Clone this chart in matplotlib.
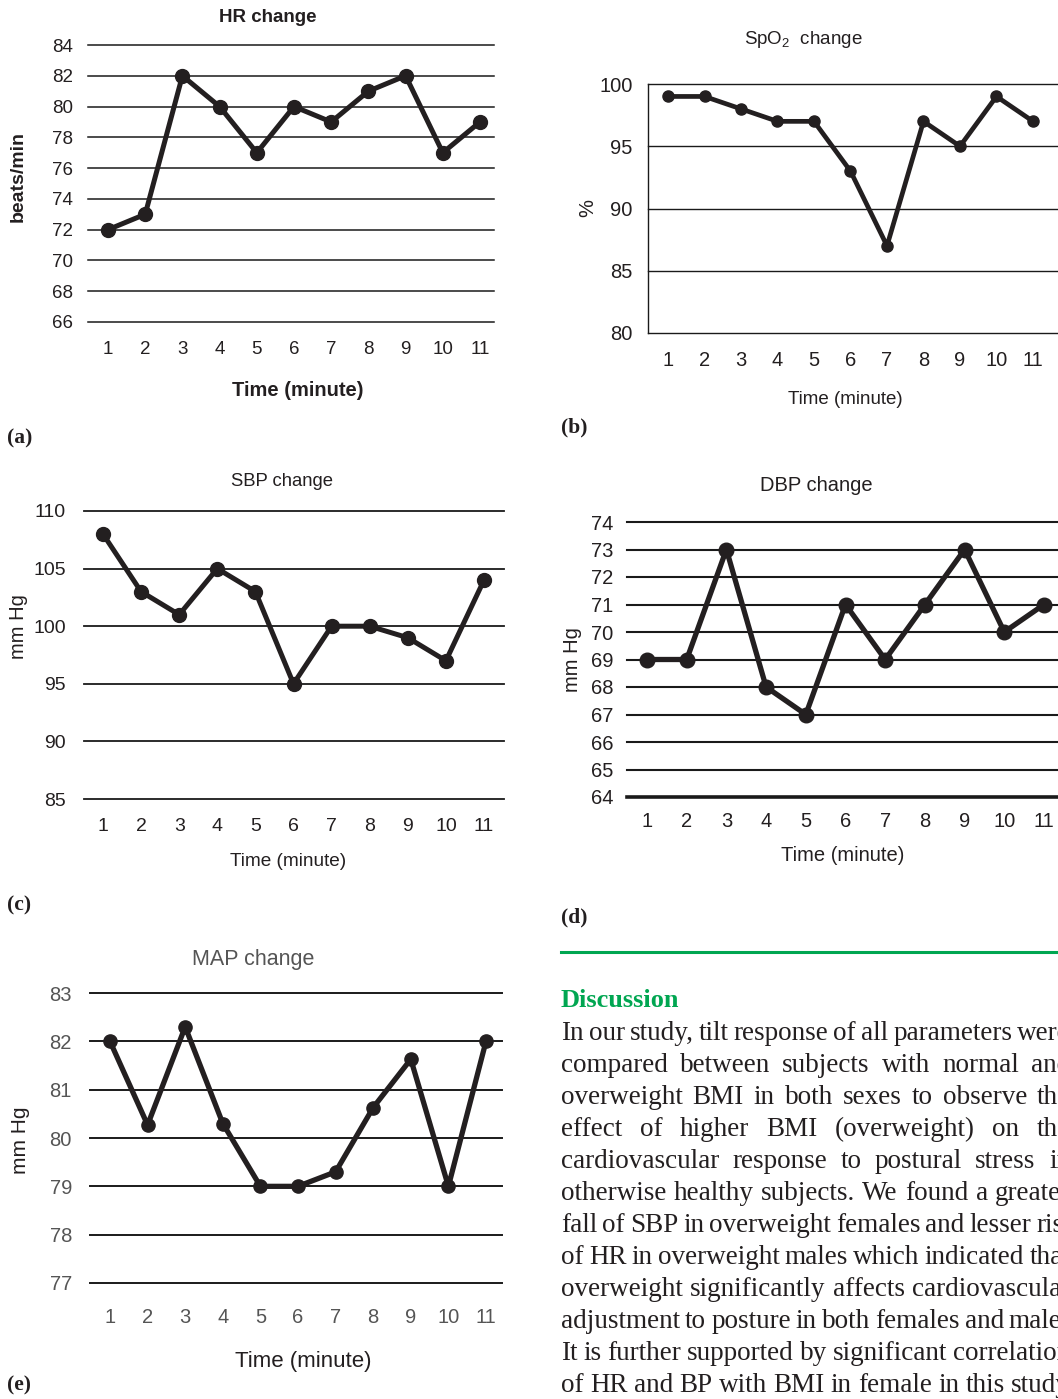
import numpy as np
import matplotlib.pyplot as plt

W, H = 1058, 1399

minutes = np.arange(1, 12)
hr = [72, 73, 82, 80, 77, 80, 79, 81, 82, 77, 79]
spo2 = [99, 99, 98, 97, 97, 93, 87, 97, 95, 99, 97]
sbp = [108, 103, 101, 105, 103, 95, 100, 100, 99, 97, 104]
dbp = [69, 69, 73, 68, 67, 71, 69, 71, 73, 70, 71]
map_ = [82, 80.27, 82.3, 80.3, 79, 79, 79.3, 80.63, 81.63, 79, 82]

hr_ticks = list(range(66, 85, 2))
spo2_ticks = [80, 85, 90, 95, 100]
sbp_ticks = [85, 90, 95, 100, 105, 110]
dbp_ticks = list(range(64, 75))
map_ticks = list(range(77, 84))

discussion = [
    "In our study, tilt response of all parameters were",
    "compared between subjects with normal and",
    "overweight BMI in both sexes to observe the",
    "effect of higher BMI (overweight) on the",
    "cardiovascular response to postural stress in",
    "otherwise healthy subjects. We found a greater",
    "fall of SBP in overweight females and lesser rise",
    "of HR in overweight males which indicated that",
    "overweight significantly affects cardiovascular",
    "adjustment to posture in both females and males.",
    "It is further supported by significant correlation",
    "of HR and BP with BMI in female in this study",
]

plt.rcParams['font.family'] = ['Liberation Sans', 'DejaVu Sans']
plt.rcParams['mathtext.fontset'] = 'custom'
plt.rcParams['mathtext.rm'] = 'Liberation Sans'
INK = '#231f20'

fig = plt.figure(figsize=(W / 100, H / 100), dpi=100)


def fx(x):
    return x / W


def fy(y):
    return 1 - y / H


def panel(box, x1, x11, values, yticks, fs, color, grid_lw,
          lw, ms, ypad, xpad, bottom_lw=None, left_spine=False):
    left, right, top, bottom = box
    ax = fig.add_axes([fx(left), fy(bottom), (right - left) / W, (bottom - top) / H])
    unit = (x11 - x1) / 10
    ax.set_xlim(1 - (x1 - left) / unit, 11 + (right - x11) / unit)
    ax.set_ylim(yticks[0], yticks[-1])
    for v in yticks:
        w = bottom_lw if (bottom_lw and v == yticks[0]) else grid_lw
        ax.axhline(v, color='#1a1a1a', lw=w, clip_on=False, zorder=1)
    if left_spine:
        ax.axvline(ax.get_xlim()[0], color='#1a1a1a', lw=grid_lw, clip_on=False)
    ax.plot(minutes, values, color=INK, lw=lw, marker='o', ms=ms,
            zorder=3, clip_on=False)
    ax.set_xticks(minutes)
    ax.set_yticks(yticks)
    ax.tick_params(length=0, labelsize=fs, labelcolor=color)
    ax.tick_params(axis='y', pad=ypad)
    ax.tick_params(axis='x', pad=xpad)
    for s in ax.spines.values():
        s.set_visible(False)
    ax.patch.set_alpha(0)
    return ax


# (a) HR
panel((88, 494, 45, 322), 108, 480, hr, hr_ticks, 13.5,
      INK, 1.1, 3.6, 10, 11, 14)
fig.text(fx(268), fy(17), 'HR change', ha='center', va='center',
         fontsize=13.5, fontweight='bold', color=INK)
fig.text(fx(18), fy(176), 'beats/min', ha='center', va='center', rotation=90,
         fontsize=14, fontweight='bold', color=INK)
fig.text(fx(298), fy(390), 'Time (minute)', ha='center', va='center',
         fontsize=14.5, fontweight='bold', color=INK)

# (b) SpO2
panel((648, 1090, 84, 333), 668, 1033, spo2, spo2_ticks, 14.5,
      INK, 1.0, 3.4, 8, 11, 13, left_spine=True)
fig.text(fx(803), fy(40), r'SpO$_\mathregular{2}$  change', ha='center', va='center',
         fontsize=13.5, color=INK)
fig.text(fx(588), fy(208), '%', ha='center', va='center', rotation=90,
         fontsize=14.5, color=INK)
fig.text(fx(845), fy(399), 'Time (minute)', ha='center', va='center',
         fontsize=13.5, color=INK)

# (c) SBP
panel((84, 504, 511, 799), 103, 484, sbp, sbp_ticks, 14,
      INK, 1.3, 3.6, 10, 13, 14)
fig.text(fx(282), fy(482), 'SBP change', ha='center', va='center',
         fontsize=13.3, color=INK)
fig.text(fx(18), fy(627), 'mm Hg', ha='center', va='center', rotation=90,
         fontsize=14.5, color=INK)
fig.text(fx(288), fy(862), 'Time (minute)', ha='center', va='center',
         fontsize=13.7, color=INK)

# (d) DBP
panel((627, 1090, 522, 797), 647, 1044, dbp, dbp_ticks, 14.5,
      INK, 1.5, 3.8, 10.5, 10, 11, bottom_lw=2.6)
fig.text(fx(816), fy(485), 'DBP change', ha='center', va='center',
         fontsize=14.5, color=INK)
fig.text(fx(572), fy(660), 'mm Hg', ha='center', va='center', rotation=90,
         fontsize=14.5, color=INK)
fig.text(fx(843), fy(855), 'Time (minute)', ha='center', va='center',
         fontsize=14.5, color=INK)

# (e) MAP
grey = '#555555'
panel((90, 502, 993, 1283), 110, 486, map_, map_ticks, 14.5,
      grey, 1.4, 3.8, 9.5, 13, 18)
fig.text(fx(253), fy(960), 'MAP change', ha='center', va='center',
         fontsize=15.5, color=grey)
fig.text(fx(20), fy(1140), 'mm Hg', ha='center', va='center', rotation=90,
         fontsize=15, color=INK)
fig.text(fx(303), fy(1361), 'Time (minute)', ha='center', va='center',
         fontsize=16, color=INK)

# panel letters
for lab, (x, y) in zip(['(a)', '(b)', '(c)', '(d)', '(e)'],
                       [(7, 438), (561, 427), (7, 905), (561, 917), (7, 1385)]):
    fig.text(fx(x), fy(y), lab, ha='left', va='center', fontsize=15.5,
             fontweight='bold', family='Liberation Serif', color=INK)

# discussion column
green = '#00a651'
fig.add_artist(plt.Line2D([fx(561), fx(1058)], [fy(952), fy(952)],
                          color=green, lw=2.2))
fig.text(fx(561), fy(1007), 'Discussion', ha='left', va='baseline',
         fontsize=19, fontweight='bold', family='Liberation Serif', color=green)

renderer = fig.canvas.get_renderer()
col_left, col_right = 561, 1070
for i, line in enumerate(discussion):
    y = 1040 + i * 32
    words = line.split(' ')
    texts = [fig.text(0, fy(y), w, ha='left', va='baseline', fontsize=19.5,
                      family='Liberation Serif', color=INK) for w in words]
    widths = [t.get_window_extent(renderer).width for t in texts]
    gap = max(5, (col_right - col_left - sum(widths)) / (len(words) - 1))
    x = col_left
    for t, w in zip(texts, widths):
        t.set_x(fx(x))
        x += w + gap

fig.savefig('out.png', dpi=100)
